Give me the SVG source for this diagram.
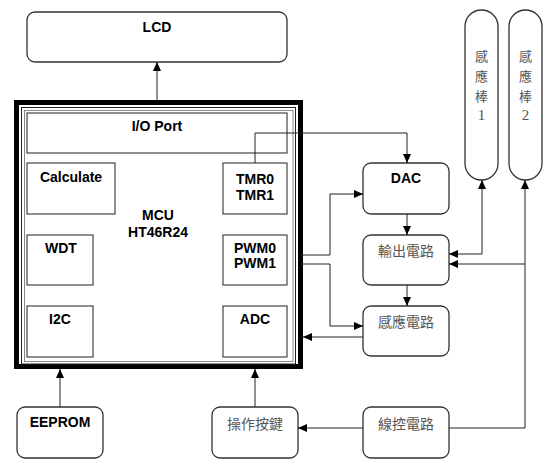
<svg xmlns="http://www.w3.org/2000/svg" width="550" height="473" viewBox="0 0 550 473">
<style>
.box{fill:#fff;stroke:#333;stroke-width:1.3}
.sq{fill:#fff;stroke:#444;stroke-width:1.2}
.lbl{font-family:"Liberation Sans",Arial,sans-serif;font-weight:bold;font-size:14px;fill:#000;text-anchor:middle}
.cjk{font-family:"Noto Sans CJK TC","Noto Sans CJK SC",sans-serif;font-size:14px;fill:#555;text-anchor:middle}
.rod{font-family:"Noto Sans CJK TC","Noto Sans CJK SC",serif;font-size:13px;fill:#555;text-anchor:middle}
.ln{fill:none;stroke:#222;stroke-width:1;marker-end:url(#ah)}
</style>
<defs>
<marker id="ah" markerUnits="userSpaceOnUse" markerWidth="10" markerHeight="8" refX="9" refY="4" orient="auto-start-reverse">
<path d="M0,0 L9,4 L0,8 z" fill="#000"/>
</marker>
</defs>
<rect width="550" height="473" fill="#fff"/>

<g id="lcd">
<rect class="box" x="27" y="12" width="260" height="50" rx="8"/>
<text class="lbl" x="157" y="32">LCD</text>
</g>

<g id="mcu">
<rect x="16.5" y="102.5" width="284" height="264" fill="#fff" stroke="#000" stroke-width="5"/>
<rect x="21.5" y="107.5" width="274" height="256.5" fill="none" stroke="#222" stroke-width="1"/>
<rect x="24.5" y="110.5" width="268.5" height="251" fill="none" stroke="#888" stroke-width="1"/>
<text class="lbl" x="158" y="220">MCU</text>
<text class="lbl" x="158" y="237">HT46R24</text>
</g>
<g id="ioport">
<rect class="sq" x="27" y="113" width="260" height="40"/>
<text class="lbl" x="157" y="131">I/O Port</text>
</g>
<g id="calculate">
<rect class="sq" x="27" y="163" width="88" height="51"/>
<text class="lbl" x="71" y="182">Calculate</text>
</g>
<g id="tmr">
<rect class="sq" x="223" y="163" width="64" height="51"/>
<text class="lbl" x="255" y="184">TMR0</text>
<text class="lbl" x="255" y="200">TMR1</text>
</g>
<g id="wdt">
<rect class="sq" x="27" y="235" width="66" height="50"/>
<text class="lbl" x="61" y="253">WDT</text>
</g>
<g id="pwm">
<rect class="sq" x="223" y="235" width="64" height="50"/>
<text class="lbl" x="255" y="253">PWM0</text>
<text class="lbl" x="255" y="268">PWM1</text>
</g>
<g id="i2c">
<rect class="sq" x="27" y="306" width="66" height="51"/>
<text class="lbl" x="60" y="324">I2C</text>
</g>
<g id="adc">
<rect class="sq" x="223" y="306" width="64" height="51"/>
<text class="lbl" x="255" y="324">ADC</text>
</g>

<g id="eeprom">
<rect class="box" x="17" y="407" width="86" height="51" rx="8"/>
<text class="lbl" x="60" y="427">EEPROM</text>
</g>
<g id="keys">
<rect class="box" x="212" y="407" width="86" height="51" rx="8"/>
<text class="cjk" x="255" y="428.5">操作按鍵</text>
</g>
<g id="wirectl">
<rect class="box" x="363" y="407" width="86" height="51" rx="8"/>
<text class="cjk" x="406" y="428.5">線控電路</text>
</g>
<g id="dac">
<rect class="box" x="363" y="163" width="86" height="51" rx="8"/>
<text class="lbl" x="406" y="183">DAC</text>
</g>
<g id="output">
<rect class="box" x="363" y="235" width="86" height="50" rx="8"/>
<text class="cjk" x="406" y="255.5">輸出電路</text>
</g>
<g id="sense">
<rect class="box" x="363" y="306" width="86" height="50" rx="8"/>
<text class="cjk" x="406" y="326.5">感應電路</text>
</g>
<g id="rod1">
<rect class="box" x="465" y="10" width="33" height="170" rx="16.5"/>
<text class="rod"><tspan x="481.5" y="61">感</tspan><tspan x="481.5" y="81">應</tspan><tspan x="481.5" y="101">棒</tspan><tspan x="481.5" y="120" font-family="Liberation Serif,serif" font-size="15">1</tspan></text>
</g>
<g id="rod2">
<rect class="box" x="509" y="10" width="33" height="170" rx="16.5"/>
<text class="rod"><tspan x="525.5" y="61">感</tspan><tspan x="525.5" y="81">應</tspan><tspan x="525.5" y="101">棒</tspan><tspan x="525.5" y="120" font-family="Liberation Serif,serif" font-size="15">2</tspan></text>
</g>

<g id="connectors">
<path class="ln" d="M157,100 V62"/>
<path class="ln" d="M255,163 V133 H407 V163"/>
<path class="ln" d="M301,255 H330 V194 H363"/>
<path class="ln" d="M301,264 H330 V326 H363"/>
<path class="ln" d="M363,337 H303"/>
<path class="ln" d="M407,214 V235"/>
<path class="ln" d="M407,285 V306"/>
<path class="ln" d="M449,254 H482 V180" style="marker-start:url(#ah)"/>
<path class="ln" d="M449,428 H525 V180"/>
<path class="ln" d="M525,264 H449"/>
<path class="ln" d="M363,428 H298"/>
<path class="ln" d="M255,407 V369"/>
<path class="ln" d="M60,407 V369"/>
</g>
</svg>
